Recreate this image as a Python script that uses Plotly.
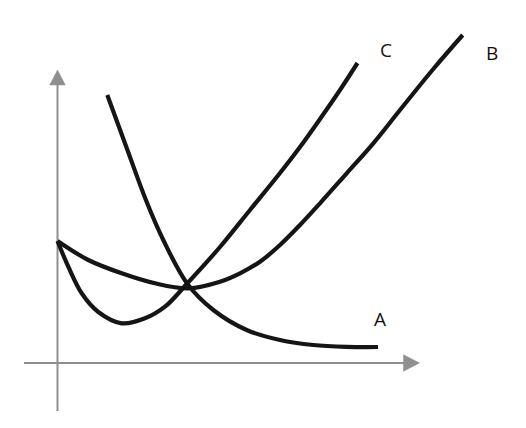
import plotly.graph_objects as go

# Curve data (abstract units, origin at axes crossing)
a_x = [4.98, 6.92, 8.92, 10.58, 13.0, 15.58, 18.92, 22.25, 25.58, 28.9, 32.05]
a_y = [26.8, 21.5, 16.1, 12.3, 7.9, 5.3, 3.3, 2.3, 1.8, 1.62, 1.6]

b_x = [0.0, 3.08, 6.42, 9.75, 13.08, 16.25, 18.25, 20.25, 22.25, 24.25, 26.25, 28.92, 31.58, 34.25, 37.58, 40.52]
b_y = [12.2, 10.3, 8.97, 7.97, 7.47, 8.13, 8.97, 10.13, 11.8, 13.8, 15.97, 18.97, 21.97, 25.3, 29.4, 32.8]

c_x = [0.0, 1.08, 2.42, 4.08, 6.42, 8.75, 10.75, 12.92, 16.25, 19.25, 22.25, 24.25, 26.25, 28.25, 30.0]
c_y = [12.2, 9.63, 6.97, 5.1, 3.97, 4.47, 5.63, 7.9, 11.6, 15.3, 19.0, 21.6, 24.4, 27.3, 30.0]

labels = ["A", "B", "C"]
label_x = [32.2, 43.4, 32.8]
label_y = [4.4, 31.0, 31.3]

curve_color = "#151515"
axis_color = "#8f8f8f"

fig = go.Figure()
for xs, ys in [(a_x, a_y), (b_x, b_y), (c_x, c_y)]:
    fig.add_trace(go.Scatter(x=xs, y=ys, mode="lines",
                             line=dict(color=curve_color, width=4.2, shape="spline", smoothing=1.0),
                             hoverinfo="skip", showlegend=False))

# axes lines
fig.add_shape(type="line", x0=-3.35, y0=0, x1=35.0, y1=0, line=dict(color=axis_color, width=2), layer="below")
fig.add_shape(type="line", x0=0, y0=-4.8, x1=0, y1=28.0, line=dict(color=axis_color, width=2), layer="below")
# arrowheads
fig.add_shape(type="path", path="M 34.6 0.83 L 36.2 0 L 34.6 -0.83 Z",
              fillcolor=axis_color, line=dict(color=axis_color, width=0.5), layer="below")
fig.add_shape(type="path", path="M -0.78 27.8 L 0 29.3 L 0.78 27.8 Z",
              fillcolor=axis_color, line=dict(color=axis_color, width=0.5), layer="below")

for t, x, y in zip(labels, label_x, label_y):
    fig.add_annotation(x=x, y=y, text=t, showarrow=False,
                       font=dict(family="Open Sans", size=19, color="#111111"))

fig.update_layout(
    width=518, height=420,
    margin=dict(l=0, r=0, t=0, b=0),
    paper_bgcolor="white", plot_bgcolor="white",
    xaxis=dict(range=[-4.95, 46.85], visible=False, fixedrange=True),
    yaxis=dict(range=[-6.5, 35.5], visible=False, fixedrange=True),
)
fig.write_html("out.html")
